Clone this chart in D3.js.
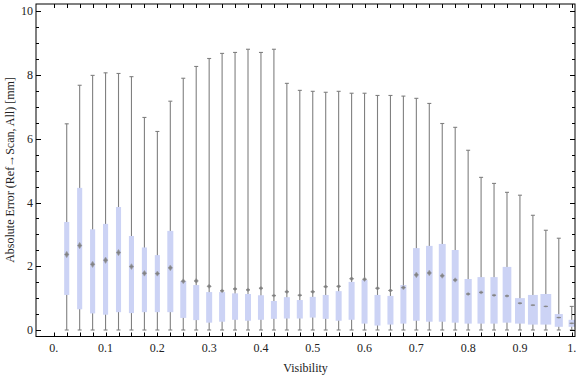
<!DOCTYPE html>
<html>
<head>
<meta charset="utf-8">
<script src="https://cdn.jsdelivr.net/npm/d3@7"></script>
<style>
  body { margin: 0; background: #fff; }
  svg { display: block; font-family: "Liberation Serif", "DejaVu Serif", serif; }
</style>
</head>
<body>
<div id="chart"><svg width="576" height="377"></svg></div>
<script>
// data
const visibility = [0.025, 0.05, 0.075, 0.1, 0.125, 0.15, 0.175, 0.2, 0.225, 0.25,
  0.275, 0.3, 0.325, 0.35, 0.375, 0.4, 0.425, 0.45, 0.475, 0.5,
  0.525, 0.55, 0.575, 0.6, 0.625, 0.65, 0.675, 0.7, 0.725, 0.75,
  0.775, 0.8, 0.825, 0.85, 0.875, 0.9, 0.925, 0.95, 0.975, 1.0];
const whiskerLow = [0, 0, 0, 0, 0, 0, 0, 0, 0, 0,
  0, 0, 0, 0, 0, 0, 0, 0, 0, 0,
  0, 0, 0, 0, 0, 0, 0, 0, 0, 0,
  0, 0, 0, 0, 0, 0, 0, 0, 0, 0];
const whiskerHigh = [6.47, 7.68, 7.99, 8.07, 8.05, 7.95, 6.67, 6.23, 7.18, 7.90,
  8.27, 8.52, 8.68, 8.71, 8.81, 8.71, 8.81, 7.74, 7.52, 7.49,
  7.46, 7.49, 7.43, 7.43, 7.36, 7.36, 7.34, 7.27, 7.11, 6.48,
  6.36, 5.64, 4.79, 4.60, 4.32, 4.23, 3.60, 3.13, 2.88, 0.74];
const q1 = [1.10, 0.65, 0.52, 0.48, 0.56, 0.53, 0.56, 0.56, 0.56, 0.38,
  0.31, 0.23, 0.26, 0.32, 0.29, 0.32, 0.35, 0.36, 0.36, 0.39,
  0.35, 0.29, 0.32, 0.20, 0.14, 0.17, 0.20, 0.29, 0.26, 0.26,
  0.23, 0.20, 0.20, 0.20, 0.23, 0.20, 0.17, 0.17, 0.10, 0.10];
const q3 = [3.39, 4.46, 3.16, 3.33, 3.86, 2.95, 2.59, 2.35, 3.11, 1.54,
  1.41, 1.19, 1.19, 1.15, 1.13, 1.09, 0.91, 1.03, 0.94, 1.04,
  1.10, 1.22, 1.51, 1.57, 1.10, 1.07, 1.41, 2.57, 2.64, 2.70,
  2.51, 1.60, 1.66, 1.66, 1.98, 1.00, 1.10, 1.13, 0.50, 0.32];
const mean = [2.37, 2.65, 2.06, 2.19, 2.43, 1.99, 1.78, 1.77, 1.95, 1.53,
  1.54, 1.37, 1.23, 1.29, 1.26, 1.31, 1.08, 1.20, 1.09, 1.20,
  1.36, 1.37, 1.61, 1.59, 1.31, 1.24, 1.33, 1.73, 1.79, 1.70,
  1.57, 1.13, 1.18, 1.09, 1.07, 0.84, 0.78, 0.74, 0.39, 0.21];
const meanErr = [0.10, 0.10, 0.10, 0.10, 0.10, 0.09, 0.09, 0.08, 0.09, 0.08,
  0.08, 0.07, 0.06, 0.06, 0.06, 0.06, 0.05, 0.06, 0.05, 0.06,
  0.06, 0.06, 0.07, 0.07, 0.06, 0.06, 0.07, 0.09, 0.09, 0.08,
  0.07, 0.05, 0.05, 0.04, 0.04, 0.03, 0.02, 0.02, 0.02, 0.02];
const boxWeight = [0.85, 0.85, 0.85, 0.85, 0.85, 0.85, 0.85, 0.85, 1, 1,
  1, 1, 1, 1, 1, 1, 1, 1, 1, 1,
  1, 1, 1, 1, 1, 1, 1, 1.1, 1.1, 1.15,
  1.15, 1.2, 1.2, 1.2, 1.45, 1.65, 1.65, 1.8, 1.35, 1.05];
const xTicks = [0, 0.1, 0.2, 0.3, 0.4, 0.5, 0.6, 0.7, 0.8, 0.9, 1];
const xTickLabels = ['0.', '0.1', '0.2', '0.3', '0.4', '0.5', '0.6', '0.7', '0.8', '0.9', '1.'];
const yTicks = [0, 2, 4, 6, 8, 10];

const svg = d3.select('#chart svg');
const FL = 36, FR = 575, FT = 4, FB = 336.5;

// scales
const scaleX = d3.scaleLinear().domain([-0.0343, 1.0063]).range([FL, FR]);
const scaleY = d3.scaleLinear().domain([-0.204, 10.23]).range([FB, FT]);
const scaleW = d3.scaleLinear().domain([0, 1]).range([0, 6]);

const rows = visibility.map((v, i) => ({
  v, lo: whiskerLow[i], hi: whiskerHigh[i], q1: q1[i], q3: q3[i],
  m: mean[i], e: meanErr[i], w: scaleW(boxWeight[i])
}));

// whiskers
const wG = svg.append('g').attr('stroke', '#808080').attr('stroke-width', 1.1);
wG.selectAll('line.w')
  .data(rows)
  .join('line')
  .attr('class', 'w')
  .attr('x1', d => scaleX(d.v)).attr('x2', d => scaleX(d.v))
  .attr('y1', d => scaleY(d.lo)).attr('y2', d => scaleY(d.hi));
wG.selectAll('line.top')
  .data(rows)
  .join('line')
  .attr('class', 'top')
  .attr('x1', d => scaleX(d.v) - 2).attr('x2', d => scaleX(d.v) + 2)
  .attr('y1', d => scaleY(d.hi)).attr('y2', d => scaleY(d.hi));
wG.selectAll('line.bot')
  .data(rows)
  .join('line')
  .attr('class', 'bot')
  .attr('x1', d => scaleX(d.v) - 2).attr('x2', d => scaleX(d.v) + 2)
  .attr('y1', d => scaleY(d.lo)).attr('y2', d => scaleY(d.lo));

// boxes
svg.append('g')
  .selectAll('rect')
  .data(rows)
  .join('rect')
  .attr('x', d => scaleX(d.v) - d.w / 2)
  .attr('width', d => d.w)
  .attr('y', d => scaleY(d.q3))
  .attr('height', d => scaleY(d.q1) - scaleY(d.q3))
  .style('fill', '#ccd3f5');

// mean markers (blurry diamonds)
const mG = svg.append('g');
mG.selectAll('path')
  .data(rows)
  .join('path')
  .attr('d', d => {
    const cx = scaleX(d.v), cy = scaleY(d.m);
    const t = scaleY(d.m + d.e), b = scaleY(d.m - d.e);
    return `M${cx},${t}L${cx + 2},${cy}L${cx},${b}L${cx - 2},${cy}Z`;
  })
  .style('fill', '#7a7a7a')
  .style('stroke', '#9a9a9a')
  .style('stroke-width', 0.6)
  .style('opacity', 0.85);
mG.selectAll('line')
  .data(rows)
  .join('line')
  .attr('x1', d => scaleX(d.v) - 2).attr('x2', d => scaleX(d.v) + 2)
  .attr('y1', d => scaleY(d.m)).attr('y2', d => scaleY(d.m))
  .attr('stroke', '#808080')
  .attr('stroke-width', 0.8);

// frame and ticks
const fG = svg.append('g').attr('stroke', '#000').attr('stroke-width', 1);
fG.append('rect')
  .attr('x', FL).attr('y', FT)
  .attr('width', FR - FL).attr('height', FB - FT)
  .attr('fill', 'none');

const xMinor = visibility.concat([0]);
fG.selectAll('line.xb')
  .data(xMinor)
  .join('line')
  .attr('class', 'xb')
  .attr('x1', d => Math.round(scaleX(d)) + 0.5).attr('x2', d => Math.round(scaleX(d)) + 0.5)
  .attr('y1', FB).attr('y2', FB - 4);
fG.selectAll('line.xt')
  .data(xMinor)
  .join('line')
  .attr('class', 'xt')
  .attr('x1', d => Math.round(scaleX(d)) + 0.5).attr('x2', d => Math.round(scaleX(d)) + 0.5)
  .attr('y1', FT).attr('y2', FT + 4);

const yAll = d3.range(0, 21).map(k => k * 0.5);
fG.selectAll('line.yl')
  .data(yAll)
  .join('line')
  .attr('class', 'yl')
  .attr('x1', FL).attr('x2', d => FL + (d % 2 === 0 ? 5 : 3))
  .attr('y1', d => Math.round(scaleY(d)) + 0.5).attr('y2', d => Math.round(scaleY(d)) + 0.5);
fG.selectAll('line.yr')
  .data(yAll)
  .join('line')
  .attr('class', 'yr')
  .attr('x1', FR).attr('x2', d => FR - (d % 2 === 0 ? 5 : 3))
  .attr('y1', d => Math.round(scaleY(d)) + 0.5).attr('y2', d => Math.round(scaleY(d)) + 0.5);

// tick labels
svg.append('g')
  .style('font-size', '12px')
  .style('fill', '#222')
  .selectAll('text')
  .data(xTicks)
  .join('text')
  .text((d, i) => xTickLabels[i])
  .attr('x', d => scaleX(d))
  .attr('y', 352)
  .style('text-anchor', 'middle');

svg.append('g')
  .style('font-size', '12px')
  .style('fill', '#222')
  .selectAll('text')
  .data(yTicks)
  .join('text')
  .text(d => d)
  .attr('x', 33)
  .attr('y', d => scaleY(d) + 4)
  .style('text-anchor', 'end');

// axis titles
svg.append('text')
  .text('Visibility')
  .attr('x', (FL + FR) / 2)
  .attr('y', 372)
  .style('font-size', '12px')
  .style('fill', '#222')
  .style('text-anchor', 'middle');

svg.append('text')
  .text('Absolute Error (Ref\u2192Scan, All) [mm]')
  .attr('transform', 'translate(14,170) rotate(-90)')
  .style('font-size', '12px')
  .style('fill', '#222')
  .style('text-anchor', 'middle');
</script>
</body>
</html>
